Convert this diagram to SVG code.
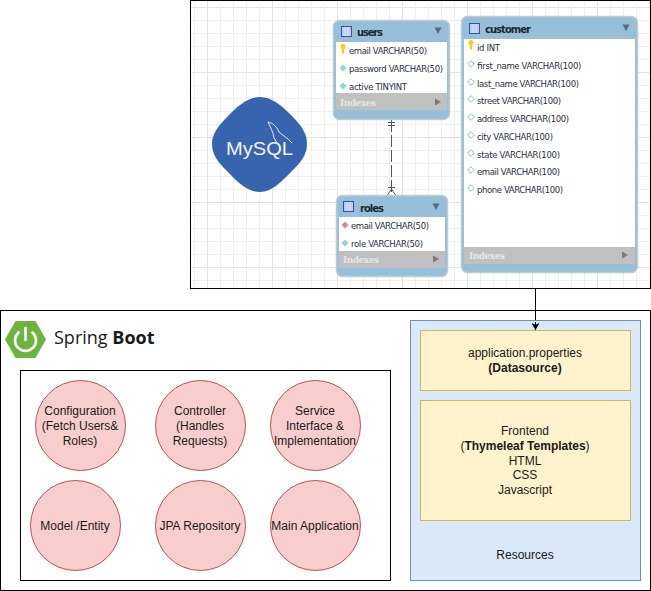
<svg xmlns="http://www.w3.org/2000/svg" width="651" height="591" viewBox="0 0 651 591">
<style>
.dio{font-family:"Liberation Sans",Arial,sans-serif;font-size:12px;fill:#1a1a1a;text-anchor:middle}
.b{font-weight:bold}
.box{fill:none;stroke:#000;stroke-width:1}
.c{fill:#f8cecc;stroke:#b85450;stroke-width:1}
.y{fill:#fff2cc;stroke:#d6b656;stroke-width:1}
.er{font-family:"DejaVu Sans",Verdana,sans-serif;font-size:8.5px;fill:#1f2f42}
.hd{font-family:"DejaVu Sans",Verdana,sans-serif;font-size:10px;font-weight:bold;fill:#1c2733}
.ix{font-family:"DejaVu Serif",serif;font-size:9px;font-weight:bold;fill:#e6e6e6}
.frame{fill:#97bfd9;stroke:#bccbd3;stroke-width:1.5}
.conn{fill:none;stroke:#555;stroke-width:1}
</style>
<defs>
<pattern id="gmin" x="207" y="7" width="13" height="13" patternUnits="userSpaceOnUse"><path d="M0.5 0V13M0 0.5H13" fill="none" stroke="#f0f0f0"/></pattern>
<pattern id="gmaj" x="207" y="7" width="65" height="65" patternUnits="userSpaceOnUse"><path d="M0.5 0V65M0 0.5H65" fill="none" stroke="#e4e4e4"/></pattern>
<g id="tbl"><rect x="0.5" y="0.5" width="10" height="10" fill="#b9cdf0" stroke="#3a4fb0"/><path d="M4 1V10M7 1V10" stroke="#dfe8fa" fill="none"/></g>
<path id="dn" d="M-3.5 -3.5L3.5 -3.5L0 3Z" fill="#5f6b73"/>
<path id="rt" d="M-3 -3.5L3 0L-3 3.5Z" fill="#7a7a7a"/>
<path id="key" d="M-2.6 -3.5a2.6 2.6 0 0 1 5.2 0c0 1.5-.9 2-1.3 2.6L1 3.6H-1L-1.3 -1C-1.8 -1.6-2.6 -2-2.6 -3.5Z" fill="#f3cf1f"/>
<path id="dia" d="M0 -3.3L3.3 0L0 3.3L-3.3 0Z" fill="#83dcdc" stroke="#a9c7c7" stroke-width=".5"/>
<path id="dio" d="M0 -3.3L3.3 0L0 3.3L-3.3 0Z" fill="#fff" stroke="#7fc4c4" stroke-width="1"/>
<path id="dir" d="M0 -3.3L3.3 0L0 3.3L-3.3 0Z" fill="#e08080" stroke="#c9a3a3" stroke-width=".5"/>
<marker id="arr" viewBox="0 0 8 8" refX="7" refY="4" markerWidth="8" markerHeight="8" markerUnits="userSpaceOnUse" orient="auto"><path d="M0 0L7 4L0 8L1.8 4Z" fill="#000"/></marker>
</defs>

<g id="er-panel">
<rect x="190.5" y="0.5" width="460" height="288" fill="#fff"/>
<rect x="191" y="1" width="459" height="287" fill="url(#gmin)"/>
<rect x="191" y="1" width="459" height="287" fill="url(#gmaj)"/>
<rect class="box" x="190.5" y="0.5" width="460" height="288"/>
</g>

<g id="mysql-logo">
<path d="M260 97C272 97 282 106 292 116C302 126 307 134 307 144C307 155 301 162 291 172C281 182 272 192 260 192C248 192 238 183 228 172C218 162 212 155 212 144C212 134 218 126 228 116C238 106 248 97 260 97Z" fill="#3764ae"/>
<text x="226" y="155" font-family="'Liberation Sans',Arial,sans-serif" font-size="18" fill="#f2f5fa" textLength="67" lengthAdjust="spacingAndGlyphs">MySQL</text>
<path d="M268 122C273 123 277 127 279 132C282 135 288 138 292 143M268 122C270 127 273 131 274 138L279 146" fill="none" stroke="#e8edf6" stroke-width="1"/>
</g>

<g id="connectors">
<path class="conn" d="M391.5 120V195" stroke-dasharray="12 3"/>
<path class="conn" d="M388 122.5H395M388 125.5H395M388 187.5H395M387.5 195L391.5 189L395.5 195"/>
<path d="M535.5 288.5V330" fill="none" stroke="#000" stroke-width="1" marker-end="url(#arr)"/>
</g>

<g id="table-users">
<rect class="frame" x="333.5" y="20.5" width="116" height="99" rx="6"/>
<rect x="336" y="42" width="111" height="51" fill="#fff"/>
<rect x="336" y="93" width="111" height="17" fill="#c0c0c0"/>
<use href="#tbl" x="341" y="26"/>
<text class="hd" x="357" y="36" textLength="26">users</text>
<use href="#dn" x="438" y="31"/>
<use href="#key" x="343" y="50"/><text class="er" x="349" y="54" textLength="78">email VARCHAR(50)</text>
<use href="#dia" x="343" y="68"/><text class="er" x="349" y="72" textLength="94">password VARCHAR(50)</text>
<use href="#dia" x="343" y="86"/><text class="er" x="349" y="90" textLength="58">active TINYINT</text>
<text class="ix" x="340" y="106" textLength="36">Indexes</text>
<use href="#rt" x="438" y="102"/>
</g>

<g id="table-roles">
<rect class="frame" x="336.5" y="195.5" width="111" height="81" rx="6"/>
<rect x="339" y="217" width="106" height="34" fill="#fff"/>
<rect x="339" y="251" width="106" height="17" fill="#c0c0c0"/>
<use href="#tbl" x="343" y="201"/>
<text class="hd" x="360" y="212" textLength="24">roles</text>
<use href="#dn" x="436" y="207"/>
<use href="#dir" x="345" y="225"/><text class="er" x="351" y="229" textLength="78">email VARCHAR(50)</text>
<use href="#dia" x="345" y="243"/><text class="er" x="351" y="247" textLength="72">role VARCHAR(50)</text>
<text class="ix" x="343" y="263" textLength="36">Indexes</text>
<use href="#rt" x="436" y="259"/>
</g>

<g id="table-customer">
<rect class="frame" x="461.5" y="16.5" width="176" height="256" rx="6"/>
<rect x="464" y="39" width="171" height="208" fill="#fff"/>
<rect x="464" y="247" width="171" height="17" fill="#c0c0c0"/>
<use href="#tbl" x="469" y="23"/>
<text class="hd" x="485" y="33" textLength="46">customer</text>
<use href="#dn" x="626" y="28"/>
<use href="#key" x="471" y="46"/><text class="er" x="477" y="51" textLength="23">id INT</text>
<use href="#dio" x="471" y="64"/><text class="er" x="477" y="69" textLength="104">first_name VARCHAR(100)</text>
<use href="#dio" x="471" y="82"/><text class="er" x="477" y="87" textLength="102">last_name VARCHAR(100)</text>
<use href="#dio" x="471" y="99"/><text class="er" x="477" y="104" textLength="84">street VARCHAR(100)</text>
<use href="#dio" x="471" y="117"/><text class="er" x="477" y="122" textLength="92">address VARCHAR(100)</text>
<use href="#dio" x="471" y="135"/><text class="er" x="477" y="140" textLength="76">city VARCHAR(100)</text>
<use href="#dio" x="471" y="153"/><text class="er" x="477" y="158" textLength="83">state VARCHAR(100)</text>
<use href="#dio" x="471" y="170"/><text class="er" x="477" y="175" textLength="83">email VARCHAR(100)</text>
<use href="#dio" x="471" y="188"/><text class="er" x="477" y="193" textLength="86">phone VARCHAR(100)</text>
<text class="ix" x="469" y="259" textLength="36">Indexes</text>
<use href="#rt" x="625" y="255"/>
</g>

<g id="spring-panel">
<rect class="box" x="0.5" y="310.5" width="650" height="280"/>
<path d="M15.5 321H35.5L46 339.5L35.5 358H15.5L5 339.5Z" fill="#6db33f"/>
<path d="M18.6 332.5a10.5 10.5 0 1 0 13.8 0" fill="none" stroke="#fff" stroke-width="2.6" stroke-linecap="round"/>
<path d="M25.5 328V340" fill="none" stroke="#fff" stroke-width="2.6" stroke-linecap="round"/>
<text x="54" y="344" font-family="'Open Sans','Liberation Sans',sans-serif" font-size="18" fill="#1a1a1a">Spring <tspan font-weight="bold">Boot</tspan></text>
</g>

<g id="backend-box"><rect class="box" x="20.5" y="370.5" width="370" height="210" fill="#fff" style="fill:#fff"/></g>

<g id="node-configuration"><circle class="c" cx="80.5" cy="425.5" r="45"/><text class="dio" x="80" y="415">Configuration</text><text class="dio" x="80" y="429.5">(Fetch Users&amp;</text><text class="dio" x="80" y="444.5">Roles)</text></g>
<g id="node-controller"><circle class="c" cx="200.5" cy="425.5" r="45"/><text class="dio" x="200" y="415">Controller</text><text class="dio" x="200" y="429.5">(Handles</text><text class="dio" x="200" y="444.5">Requests)</text></g>
<g id="node-service"><circle class="c" cx="315.5" cy="425.5" r="45"/><text class="dio" x="315" y="415">Service</text><text class="dio" x="315" y="429.5">Interface &amp;</text><text class="dio" x="315" y="444.5">Implementation</text></g>
<g id="node-model"><circle class="c" cx="75.5" cy="525.5" r="45"/><text class="dio" x="75" y="529.5">Model /Entity</text></g>
<g id="node-jpa"><circle class="c" cx="200.5" cy="525.5" r="45"/><text class="dio" x="200" y="529.5">JPA Repository</text></g>
<g id="node-main"><circle class="c" cx="315.5" cy="525.5" r="45"/><text class="dio" x="315" y="529.5">Main Application</text></g>

<g id="resources"><rect x="410.5" y="320.5" width="230" height="260" fill="#dae8fc" stroke="#6c8ebf"/><text class="dio" x="525" y="559">Resources</text></g>
<g id="application-properties"><rect class="y" x="420.5" y="330.5" width="210" height="60"/><text class="dio" x="525" y="357">application.properties</text><text class="dio b" x="525" y="372">(Datasource)</text></g>
<g id="frontend"><rect class="y" x="420.5" y="400.5" width="210" height="120"/><text class="dio" x="525" y="435">Frontend</text><text class="dio" x="525" y="450">(<tspan class="b">Thymeleaf Templates</tspan>)</text><text class="dio" x="525" y="465">HTML</text><text class="dio" x="525" y="479">CSS</text><text class="dio" x="525" y="494">Javascript</text></g>
<path d="M535.5 322V330" fill="none" stroke="#000" stroke-width="1" marker-end="url(#arr)"/>
</svg>
